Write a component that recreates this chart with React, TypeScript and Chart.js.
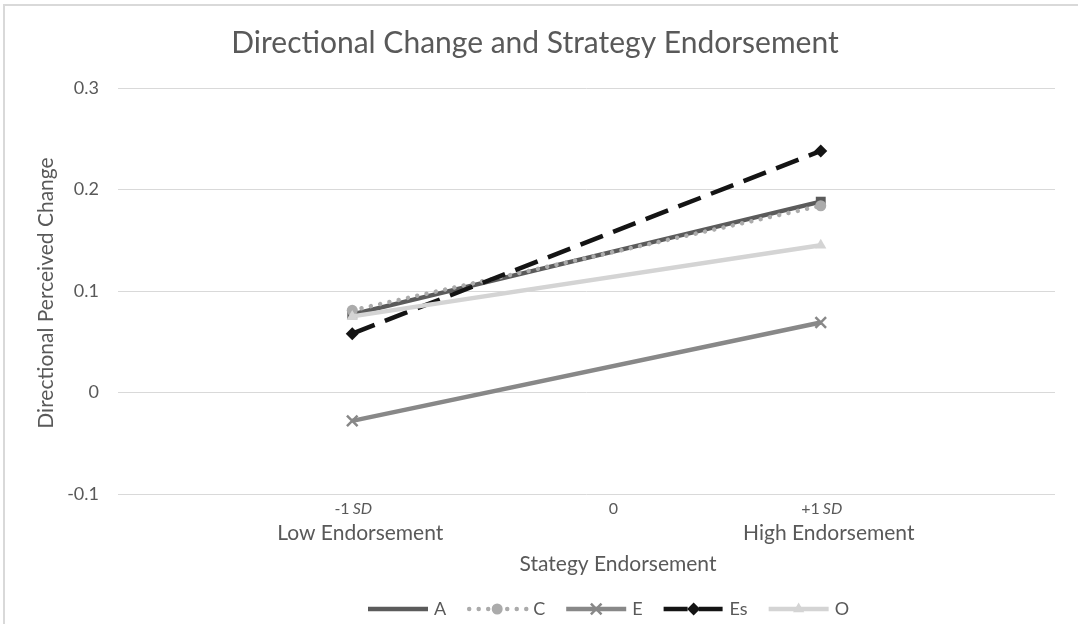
import React, { useEffect, useRef } from "react";
import { Chart, registerables } from "chart.js";

Chart.register(...registerables);

// ---------- data ----------
const xValues = [-1, 1];
const seriesNames = ["A", "C", "E", "Es", "O"];
const seriesA = [0.077, 0.188];
const seriesC = [0.081, 0.184];
const seriesE = [-0.028, 0.069];
const seriesEs = [0.058, 0.238];
const seriesO = [0.075, 0.145];
const seriesValues = [seriesA, seriesC, seriesE, seriesEs, seriesO];

const yTicks = [-0.1, 0, 0.1, 0.2, 0.3];
const yTickLabels = ["-0.1", "0", "0.1", "0.2", "0.3"];
const xTickValues = [-1, 0.11, 1];
const xTickTop = ["-1", "0", "+1"];
const xTickItalic = ["SD", "", "SD"];
const xTickBottom = ["Low Endorsement", "", "High Endorsement"];

const chartTitle = "Directional Change and Strategy Endorsement";
const xTitle = "Stategy Endorsement";
const yTitle = "Directional Perceived Change";

// ---------- styles ----------
const FONT = "Lato, 'Open Sans', sans-serif";
const TEXT = "#595959";
const GRID = "#d9d9d9";

type St = { color: string; dash: number[]; cap: CanvasLineCap; point: string; r: number; legendMarker: boolean };
const styles: St[] = [
  { color: "#5b5b5b", dash: [], cap: "butt", point: "rect", r: 7, legendMarker: false },
  { color: "#ababab", dash: [0.01, 9.5], cap: "round", point: "circle", r: 5.5, legendMarker: true },
  { color: "#888888", dash: [], cap: "butt", point: "crossRot", r: 7.5, legendMarker: true },
  { color: "#141414", dash: [24, 11], cap: "butt", point: "rectRot", r: 6.5, legendMarker: true },
  { color: "#d4d4d4", dash: [], cap: "butt", point: "triangle", r: 6.5, legendMarker: true },
];

function drawMarker(ctx: CanvasRenderingContext2D, s: St, x: number, y: number) {
  ctx.save();
  ctx.setLineDash([]);
  ctx.fillStyle = s.color;
  ctx.strokeStyle = s.color;
  const r = s.r;
  ctx.beginPath();
  if (s.point === "rect") {
    const h = r * Math.SQRT1_2;
    ctx.rect(x - h, y - h, 2 * h, 2 * h);
    ctx.fill();
  } else if (s.point === "circle") {
    ctx.arc(x, y, r, 0, Math.PI * 2);
    ctx.fill();
  } else if (s.point === "rectRot") {
    ctx.moveTo(x, y - r);
    ctx.lineTo(x + r, y);
    ctx.lineTo(x, y + r);
    ctx.lineTo(x - r, y);
    ctx.closePath();
    ctx.fill();
  } else if (s.point === "triangle") {
    ctx.moveTo(x, y - r);
    ctx.lineTo(x + r * 0.866, y + r * 0.5);
    ctx.lineTo(x - r * 0.866, y + r * 0.5);
    ctx.closePath();
    ctx.fill();
  } else if (s.point === "crossRot") {
    const d = r * Math.SQRT1_2;
    ctx.lineWidth = 2.5;
    ctx.moveTo(x - d, y - d);
    ctx.lineTo(x + d, y + d);
    ctx.moveTo(x - d, y + d);
    ctx.lineTo(x + d, y - d);
    ctx.stroke();
  }
  ctx.restore();
}

const decorPlugin = {
  id: "decor",
  beforeDraw(chart: any) {
    const ctx: CanvasRenderingContext2D = chart.ctx;
    ctx.save();
    ctx.fillStyle = "#ffffff";
    ctx.fillRect(0, 0, chart.width, chart.height);
    ctx.strokeStyle = GRID;
    ctx.lineWidth = 2;
    ctx.strokeRect(4, 5, chart.width + 10, chart.height + 10);
    ctx.restore();
  },
  afterDraw(chart: any) {
    const ctx: CanvasRenderingContext2D = chart.ctx;
    const xs = chart.scales.x;
    ctx.save();
    ctx.fillStyle = TEXT;
    ctx.textBaseline = "middle";

    // title
    ctx.textAlign = "center";
    ctx.font = `30px ${FONT}`;
    ctx.fillText(chartTitle, 535, 43);

    // x tick labels (two lines, with italic SD)
    xTickValues.forEach((v, i) => {
      const px = xs.getPixelForValue(v);
      ctx.font = `16px ${FONT}`;
      const a = xTickTop[i];
      const b = xTickItalic[i];
      const wa = ctx.measureText(a).width;
      ctx.font = `italic 16px ${FONT}`;
      const sp = b ? 3 : 0;
      const wb = b ? ctx.measureText(b).width : 0;
      const start = px + 1 - (wa + sp + wb) / 2;
      ctx.textAlign = "left";
      ctx.font = `16px ${FONT}`;
      ctx.fillText(a, start, 509);
      if (b) {
        ctx.font = `italic 16px ${FONT}`;
        ctx.fillText(b, start + wa + sp, 509);
      }
      if (xTickBottom[i]) {
        ctx.textAlign = "center";
        ctx.font = `21px ${FONT}`;
        ctx.fillText(xTickBottom[i], px + 8, 533);
      }
    });

    // axis titles
    ctx.textAlign = "center";
    ctx.font = `21px ${FONT}`;
    ctx.fillText(xTitle, 618, 564);
    ctx.save();
    ctx.translate(46, 293);
    ctx.rotate(-Math.PI / 2);
    ctx.fillText(yTitle, 0, 0);
    ctx.restore();

    // legend
    let lx = 368;
    const ly = 609;
    seriesNames.forEach((name, i) => {
      const s = styles[i];
      ctx.save();
      ctx.strokeStyle = s.color;
      ctx.lineWidth = 4.5;
      ctx.lineCap = s.cap;
      ctx.setLineDash(s.dash);
      ctx.beginPath();
      ctx.moveTo(lx + (s.cap === "round" ? 2 : 0), ly);
      ctx.lineTo(lx + 60, ly);
      ctx.stroke();
      ctx.restore();
      if (s.legendMarker) drawMarker(ctx, s, lx + 30, ly);
      ctx.font = `18px ${FONT}`;
      ctx.textAlign = "left";
      ctx.fillStyle = TEXT;
      ctx.fillText(name, lx + 66, ly);
      lx += 66 + ctx.measureText(name).width + 21;
    });
    ctx.restore();
  },
};

export default function App() {
  const ref = useRef<HTMLCanvasElement | null>(null);
  useEffect(() => {
    document.body.style.margin = "0";
    if (!ref.current) return;
    const chart = new Chart(ref.current, {
      type: "line",
      data: {
        datasets: seriesNames.map((name, i) => {
          const s = styles[i];
          return {
            label: name,
            data: xValues.map((x, j) => ({ x, y: seriesValues[i][j] })),
            borderColor: s.color,
            backgroundColor: s.color,
            borderWidth: 4.5,
            borderDash: s.dash,
            borderCapStyle: s.cap,
            pointStyle: s.point as any,
            pointRadius: s.r,
            pointBackgroundColor: s.color,
            pointBorderColor: s.color,
            pointBorderWidth: s.point === "crossRot" ? 2.5 : 0,
            order: seriesNames.length - i,
            fill: false,
            tension: 0,
          };
        }),
      },
      options: {
        animation: false,
        responsive: true,
        maintainAspectRatio: false,
        layout: { padding: { left: 0, right: 23, top: 88, bottom: 130 } },
        plugins: {
          legend: { display: false },
          title: { display: false },
          tooltip: { enabled: false },
        },
        scales: {
          x: { type: "linear", min: -2, max: 2, display: false },
          y: {
            min: -0.1,
            max: 0.3,
            afterBuildTicks: (s: any) => {
              s.ticks = yTicks.map((v) => ({ value: v }));
            },
            afterFit: (s: any) => {
              s.width = 118;
            },
            ticks: {
              callback: (_v: any, i: number) => yTickLabels[i],
              color: TEXT,
              font: { size: 18, family: FONT },
              padding: 19,
            },
            grid: { color: GRID, lineWidth: 1, drawTicks: false },
            border: { display: false },
          },
        },
      },
      plugins: [decorPlugin],
    });
    return () => chart.destroy();
  }, []);
  return (
    <div style={{ width: 1078, height: 624, position: "relative" }}>
      <canvas ref={ref} />
    </div>
  );
}
